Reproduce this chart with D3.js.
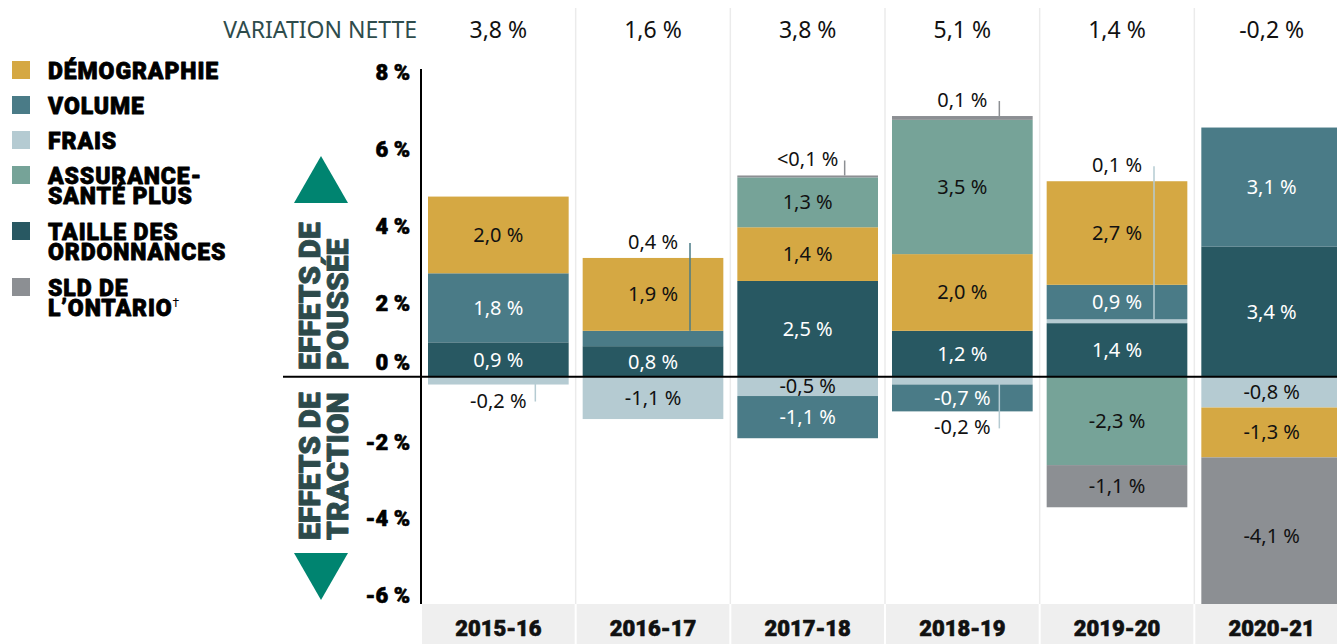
<!DOCTYPE html>
<html>
<head>
<meta charset="utf-8">
<script src="https://cdn.jsdelivr.net/npm/d3@7"></script>
<style>
  body { margin: 0; background: #fff; }
  svg { display: block; }
</style>
</head>
<body>
<svg id="chart" width="1337" height="644"></svg>
<script>
// data
var years = ["2015-16", "2016-17", "2017-18", "2018-19", "2019-20", "2020-21"];
var netChange = [3.8, 1.6, 3.8, 5.1, 1.4, -0.2];

var demographie = [2.0, 1.9, 1.4, 2.0, 2.7, -1.3];
var volume      = [1.8, 0.4, -1.1, -0.7, 0.9, 3.1];
var frais       = [-0.2, -1.1, -0.5, -0.2, 0.1, -0.8];
var assurance   = [0, 0, 1.3, 3.5, -2.3, 0];
var taille      = [0.9, 0.8, 2.5, 1.2, 1.4, 3.4];
var sld         = [0, 0, 0.05, 0.1, -1.1, -4.1];   // 0.05 shown as "<0,1 %"

var yTicks = [-6, -4, -2, 0, 2, 4, 6, 8];

// stacking order (from zero outwards)
var keys = ["taille", "frais", "volume", "demographie", "assurance", "sld"];

var colors = {
  demographie: "#d5a843",
  volume: "#4a7b87",
  frais: "#b5cbd2",
  assurance: "#76a398",
  taille: "#285862",
  sld: "#8c8f93"
};

var legendItems = [
  { key: "demographie", lines: ["DÉMOGRAPHIE"] },
  { key: "volume", lines: ["VOLUME"] },
  { key: "frais", lines: ["FRAIS"] },
  { key: "assurance", lines: ["ASSURANCE-", "SANTÉ PLUS"] },
  { key: "taille", lines: ["TAILLE DES", "ORDONNANCES"] },
  { key: "sld", lines: ["SLD DE", "L’ONTARIO"] }
];

var series = { demographie: demographie, volume: volume, frais: frais,
               assurance: assurance, taille: taille, sld: sld };

var table = years.map(function(yr, i) {
  var row = { year: yr };
  keys.forEach(function(k) { row[k] = series[k][i]; });
  return row;
});

var locale = d3.formatLocale({ decimal: ",", thousands: " ", grouping: [3],
                               currency: ["", ""], minus: "-" });
var f1 = locale.format(".1f");
function pct(v) {
  if (v > 0 && v < 0.1) return "<0,1 %";
  return f1(v) + " %";
}

var svg = d3.select("#chart");
var numFont = "'Noto Sans', 'Open Sans', sans-serif";
var boldFont = "Roboto, 'DejaVu Sans', sans-serif";

// heavy text: bold plus a thin outline of the same colour
function heavy(sel, color, w) {
  sel.style("font-family", boldFont)
    .style("font-weight", 900)
    .style("fill", color)
    .style("stroke", color)
    .style("stroke-width", w)
    .style("stroke-linejoin", "round");
}

var x = d3.scaleBand().domain(years).range([421, 1349]);
var y = d3.scaleLinear().domain([-6, 8]).range([607, 70]);
var bw = x.bandwidth();
var inset = 7;

// column separators
svg.append("g").selectAll("line")
  .data(years.slice(1))
  .enter().append("line")
    .attr("x1", function(d) { return x(d); })
    .attr("x2", function(d) { return x(d); })
    .attr("y1", 8).attr("y2", 604)
    .attr("stroke", "#ebebeb").attr("stroke-width", 1.5);

// stacked bars
var stacked = d3.stack().keys(keys).offset(d3.stackOffsetDiverging)(table);

var posTop = {}, negBottom = {};
years.forEach(function(yr) { posTop[yr] = 0; negBottom[yr] = 0; });
stacked.forEach(function(s) {
  s.forEach(function(d) {
    posTop[d.data.year] = Math.max(posTop[d.data.year], d[1], d[0]);
    negBottom[d.data.year] = Math.min(negBottom[d.data.year], d[0], d[1]);
  });
});

var segs = [];
stacked.forEach(function(s) {
  s.forEach(function(d) {
    var v = d.data[s.key];
    if (v !== 0) segs.push({ key: s.key, year: d.data.year, v: v, y0: d[0], y1: d[1] });
  });
});

svg.append("g").selectAll("rect")
  .data(segs)
  .enter().append("rect")
    .attr("x", function(d) { return x(d.year) + inset; })
    .attr("width", bw - 2 * inset)
    .attr("y", function(d) { return y(Math.max(d.y0, d.y1)); })
    .attr("height", function(d) { return Math.abs(y(d.y0) - y(d.y1)); })
    .attr("fill", function(d) { return colors[d.key]; });

// bottom band for the year labels (covers anything below -6 %)
svg.append("rect").attr("x", 421).attr("y", 604).attr("width", 916).attr("height", 40).attr("fill", "#fff");
svg.append("g").selectAll("rect")
  .data(years)
  .enter().append("rect")
    .attr("x", function(d) { return x(d) + 1; })
    .attr("y", 604)
    .attr("width", bw - 2)
    .attr("height", 40)
    .attr("fill", "#efefef");

var xAxis = svg.append("g")
  .attr("transform", "translate(0,636)")
  .call(d3.axisBottom(x).tickSize(0).tickPadding(0));
xAxis.select(".domain").remove();
xAxis.selectAll("text")
  .attr("dy", 0)
  .style("font-size", "22px")
  .call(heavy, "#111", 0.6);

// labels: inside the segment, or outside with a leader line for thin ones
var inside = segs.filter(function(d) { return Math.abs(d.v) >= 0.45; });
var outside = segs.filter(function(d) { return Math.abs(d.v) < 0.45; });

svg.append("g").selectAll("text")
  .data(inside)
  .enter().append("text")
    .attr("x", function(d) { return x(d.year) + bw / 2; })
    .attr("y", function(d) { return (y(d.y0) + y(d.y1)) / 2 + 7; })
    .attr("text-anchor", "middle")
    .style("font-family", numFont)
    .style("font-size", "20px")
    .style("fill", function(d) { return (d.key == "volume" || d.key == "taille") ? "#fff" : "#111"; })
    .text(function(d) { return pct(d.v); });

outside.forEach(function(d) {
  var cx = x(d.year) + bw / 2;
  var base, ly1, ly2;
  if (d.v > 0) {
    base = y(posTop[d.year]) - 9;
    ly1 = base - 6; ly2 = y(d.y1);
  } else {
    base = y(negBottom[d.year]) + 23;
    ly1 = y(d.y1); ly2 = base - 6;
  }
  svg.append("line")
    .attr("x1", cx + 37).attr("x2", cx + 37)
    .attr("y1", ly1).attr("y2", ly2)
    .attr("stroke", colors[d.key]).attr("stroke-width", 1.5);
  svg.append("text")
    .attr("x", cx).attr("y", base)
    .attr("text-anchor", "middle")
    .style("font-family", numFont)
    .style("font-size", "20px")
    .style("fill", "#111")
    .text(pct(d.v));
});

// zero line
svg.append("line")
  .attr("x1", 283).attr("x2", 1337)
  .attr("y1", y(0)).attr("y2", y(0))
  .attr("stroke", "#000").attr("stroke-width", 2);

// y axis
var yAxis = svg.append("g")
  .attr("transform", "translate(421,0)")
  .call(d3.axisLeft(y).tickValues(yTicks).tickSize(0).tickPadding(11)
        .tickFormat(function(d) { return locale.format("d")(d) + " %"; }));
yAxis.select(".domain").attr("d", "M0," + 69 + "V" + 604).attr("stroke", "#000").attr("stroke-width", 2);
yAxis.selectAll("text")
  .attr("dy", function(d) { return d > 0 ? "0.45em" : (d == 0 ? "-0.33em" : "-0.2em"); })
  .style("font-size", "22px")
  .call(heavy, "#000", 0.6);

// top row: net change
svg.append("text")
  .attr("x", 417).attr("y", 38)
  .attr("text-anchor", "end")
  .style("font-family", numFont)
  .style("font-size", "23px")
  .style("fill", "#2e4c4c")
  .text("VARIATION NETTE");

svg.append("g").selectAll("text")
  .data(netChange)
  .enter().append("text")
    .attr("x", function(d, i) { return x(years[i]) + bw / 2; })
    .attr("y", 38)
    .attr("text-anchor", "middle")
    .style("font-family", numFont)
    .style("font-size", "23px")
    .style("fill", "#111")
    .text(function(d) { return pct(d); });

// legend
var ly = 61;
legendItems.forEach(function(item) {
  svg.append("rect")
    .attr("x", 12).attr("y", ly)
    .attr("width", 18).attr("height", 18)
    .attr("fill", colors[item.key]);
  var t = svg.append("text")
    .style("font-size", "23px")
    .style("letter-spacing", "0.9px")
    .call(heavy, "#000", 0.8);
  item.lines.forEach(function(line, j) {
    t.append("tspan").attr("x", 48).attr("y", ly + 18 + j * 20).text(line);
  });
  if (item.key == "sld") {
    t.append("tspan").attr("dy", -9)
      .style("font-size", "12px").style("font-weight", 400).style("stroke-width", 0)
      .text("†");
  }
  ly += 35 + 21 * (item.lines.length - 1);
});

// push / pull arrows and side titles
var teal = "#008470";
svg.append("path")
  .attr("d", "M321,156 L348,203 L294,203 Z")
  .attr("fill", teal);
svg.append("path")
  .attr("d", "M294,553 L348,553 L321,600 Z")
  .attr("fill", teal);

function sideTitle(ty, lines) {
  var g = svg.append("g").attr("transform", "translate(320," + ty + ") rotate(-90)");
  lines.forEach(function(line, j) {
    g.append("text")
      .attr("x", 0).attr("y", j * 28)
      .style("font-size", "30px")
      .call(heavy, "#2d4a4b", 0.9)
      .text(line);
  });
}
sideTitle(370, ["EFFETS DE", "POUSSÉE"]);
sideTitle(540, ["EFFETS DE", "TRACTION"]);
</script>
</body>
</html>
